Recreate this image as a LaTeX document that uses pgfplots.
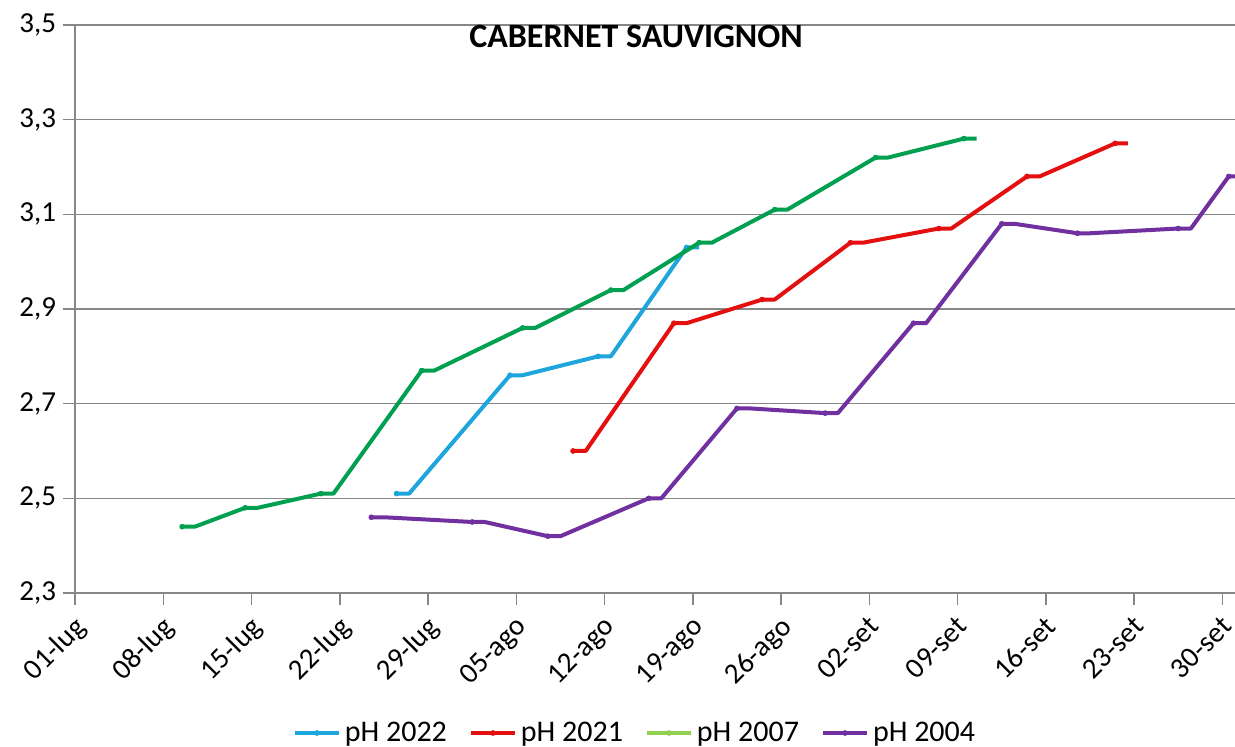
\documentclass[border=0pt]{standalone}
\usepackage{fontspec}
\setmainfont{Carlito}
\usepackage{pgfplots}
\usepackage{pgfplotstable}
\pgfplotsset{compat=1.18}
\definecolor{c22}{RGB}{30,165,220}
\definecolor{c21}{RGB}{228,16,16}
\definecolor{c07}{RGB}{0,160,80}
\definecolor{c07l}{RGB}{146,208,80}
\definecolor{c04}{RGB}{112,48,160}
\definecolor{gridc}{RGB}{134,134,134}

% x = days after 01-lug (each sample drawn as a 1-day flat step, as in the original)
\pgfplotstableread{
x y
25.5 2.51
26.5 2.51
34.5 2.76
35.5 2.76
41.5 2.80
42.5 2.80
48.5 3.03
49.5 3.03
}\tabA
\pgfplotstableread{
x y
39.5 2.60
40.5 2.60
47.5 2.87
48.5 2.87
54.5 2.92
55.5 2.92
61.5 3.04
62.5 3.04
68.5 3.07
69.5 3.07
75.5 3.18
76.5 3.18
82.5 3.25
83.5 3.25
}\tabB
\pgfplotstableread{
x y
8.5 2.44
9.5 2.44
13.5 2.48
14.5 2.48
19.5 2.51
20.5 2.51
27.5 2.77
28.5 2.77
35.5 2.86
36.5 2.86
42.5 2.94
43.5 2.94
49.5 3.04
50.5 3.04
55.5 3.11
56.5 3.11
63.5 3.22
64.5 3.22
70.5 3.26
71.5 3.26
}\tabC
\pgfplotstableread{
x y
23.5 2.46
24.5 2.46
31.5 2.45
32.5 2.45
37.5 2.42
38.5 2.42
45.5 2.50
46.5 2.50
52.5 2.69
53.5 2.69
59.5 2.68
60.5 2.68
66.5 2.87
67.5 2.87
73.5 3.08
74.5 3.08
79.5 3.06
80.5 3.06
87.5 3.07
88.5 3.07
91.5 3.18
92.5 3.18
}\tabD

\begin{document}
\begin{tikzpicture}
\useasboundingbox (0,0) rectangle (617.5pt,373.5pt);
\begin{axis}[
  at={(37.5pt,77pt)}, anchor=south west,
  scale only axis, width=580pt, height=284pt,
  xmin=0, xmax=92, ymin=2.3, ymax=3.5,
  clip mode=individual,
  axis lines*=left,
  axis line style={gridc, line width=0.75pt, -},
  xtick={0,7,14,21,28,35,42,49,56,63,70,77,84,91},
  xticklabels={01-lug,08-lug,15-lug,22-lug,29-lug,05-ago,12-ago,19-ago,26-ago,02-set,09-set,16-set,23-set,30-set},
  ytick={2.3,2.5,2.7,2.9,3.1,3.3,3.5},
  ymajorgrids, xmajorgrids=false,
  grid style={gridc, line width=0.75pt},
  tick align=outside, major tick length=6pt,
  tick style={gridc, line width=0.75pt},
  minor tick num=0,
  ticklabel style={font=\fontsize{14.5}{17}\selectfont, text=black},
  xticklabel style={rotate=45, anchor=north east, inner sep=1pt, xshift=-3pt, yshift=-1.5pt},
  yticklabel style={/pgf/number format/fixed, /pgf/number format/fixed zerofill, /pgf/number format/precision=1, /pgf/number format/use comma, /pgf/number format/assume math mode=true},
  legend image code/.code={\draw[mark repeat=2,mark phase=2,#1] plot coordinates {(0pt,0pt) (11pt,0pt) (22pt,0pt)};},
  legend style={at={(0.4836,-0.2465)}, anchor=center, draw=none, fill=none,
    font=\fontsize{15}{18}\selectfont, legend columns=4,
    /tikz/every even column/.append style={column sep=9pt}},
  legend cell align=left,
  every axis plot/.append style={line width=2pt, line join=round, mark=*, mark size=1.2pt, mark repeat=2, mark options={line width=0.4pt}},
]
\addplot[c22, forget plot] table {\tabA};
\addplot[c21, forget plot] table {\tabB};
\addplot[c07, forget plot] table {\tabC};
\addplot[c04, forget plot] table {\tabD};
\addlegendimage{c22, line width=2pt, mark=*, mark size=1.2pt}
\addlegendentry{pH 2022}
\addlegendimage{c21, line width=2pt, mark=*, mark size=1.2pt}
\addlegendentry{pH 2021}
\addlegendimage{c07l, line width=2pt, mark=*, mark size=1.2pt}
\addlegendentry{pH 2007}
\addlegendimage{c04, line width=2pt, mark=*, mark size=1.2pt}
\addlegendentry{pH 2004}
\node[font=\fontsize{17}{20}\selectfont\bfseries] at (rel axis cs:0.4836,0.9806) {CABERNET SAUVIGNON};
\end{axis}
\end{tikzpicture}
\end{document}
